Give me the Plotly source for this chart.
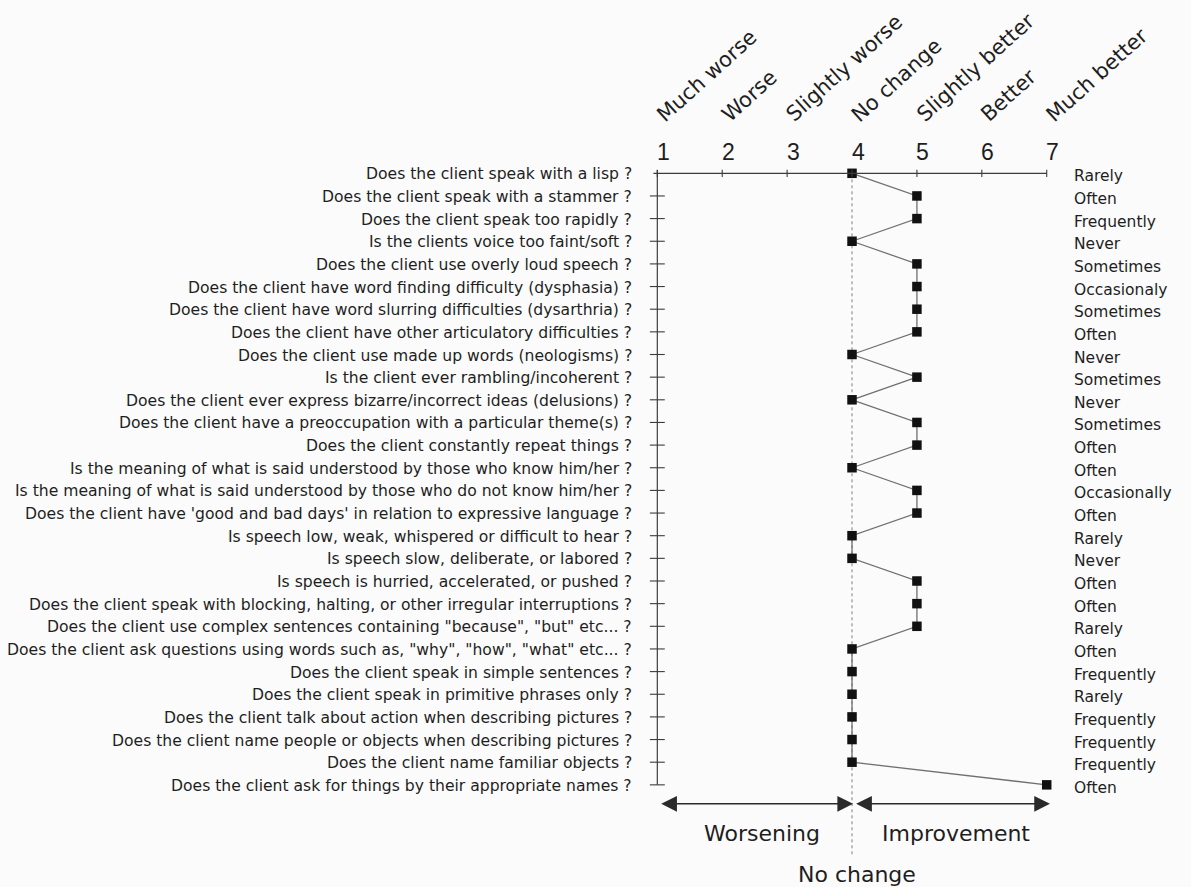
import plotly.graph_objects as go

# Questionnaire items, top to bottom
questions = [
    "Does the client speak with a lisp ?",
    "Does the client speak with a stammer ?",
    "Does the client speak too rapidly ?",
    "Is the clients voice too faint/soft ?",
    "Does the client use overly loud speech ?",
    "Does the client have word finding difficulty (dysphasia) ?",
    "Does the client have word slurring difficulties (dysarthria) ?",
    "Does the client have other articulatory difficulties ?",
    "Does the client use made up words (neologisms) ?",
    "Is the client ever rambling/incoherent ?",
    "Does the client ever express bizarre/incorrect ideas (delusions) ?",
    "Does the client have a preoccupation with a particular theme(s) ?",
    "Does the client constantly repeat things ?",
    "Is the meaning of what is said understood by those who know him/her ?",
    "Is the meaning of what is said understood by those who do not know him/her ?",
    "Does the client have 'good and bad days' in relation to expressive language ?",
    "Is speech low, weak, whispered or difficult to hear ?",
    "Is speech slow, deliberate, or labored ?",
    "Is speech is hurried, accelerated, or pushed ?",
    "Does the client speak with blocking, halting, or other irregular interruptions ?",
    "Does the client use complex sentences containing \"because\", \"but\" etc... ?",
    "Does the client ask questions using words such as, \"why\", \"how\", \"what\" etc... ?",
    "Does the client speak in simple sentences ?",
    "Does the client speak in primitive phrases only ?",
    "Does the client talk about action when describing pictures ?",
    "Does the client name people or objects when describing pictures ?",
    "Does the client name familiar objects ?",
    "Does the client ask for things by their appropriate names ?",
]

# Rated change on the 1-7 scale for each item
change_scores = [4, 5, 5, 4, 5, 5, 5, 5, 4, 5, 4, 5, 5, 4,
                 5, 5, 4, 4, 5, 5, 5, 4, 4, 4, 4, 4, 4, 7]

# Frequency rating shown at the right of each item
frequency = [
    "Rarely", "Often", "Frequently", "Never", "Sometimes", "Occasionaly",
    "Sometimes", "Often", "Never", "Sometimes", "Never", "Sometimes",
    "Often", "Often", "Occasionally", "Often", "Rarely", "Never", "Often",
    "Often", "Rarely", "Often", "Frequently", "Rarely", "Frequently",
    "Frequently", "Frequently", "Often",
]

# Change scale
scale_ticks = [1, 2, 3, 4, 5, 6, 7]
scale_names = ["Much worse", "Worse", "Slightly worse", "No change",
               "Slightly better", "Better", "Much better"]

rows = list(range(1, len(questions) + 1))

INK = "#1e1e1e"
AXIS = "#3c3c3c"
SANS = "DejaVu Sans"
ARIAL = "Liberation Sans"
BG = "#fbfbfb"

fig = go.Figure()

fig.add_trace(go.Scatter(
    x=change_scores, y=rows, mode="lines+markers",
    line=dict(color="#707070", width=1.3),
    marker=dict(symbol="square", size=9.5, color="#111111"),
    hoverinfo="skip", showlegend=False,
))

x_lo, x_hi = scale_ticks[0], scale_ticks[-1]
no_change = scale_ticks[scale_names.index("No change")]

shapes = []
# vertical axis with crossing ticks at every item
shapes.append(dict(type="line", xref="x", yref="y", x0=x_lo, x1=x_lo,
                   y0=rows[0] - 0.15, y1=rows[-1],
                   line=dict(color=AXIS, width=1.2)))
for r in rows[1:]:
    shapes.append(dict(type="line", xref="x", yref="y",
                       x0=x_lo - 0.115, x1=x_lo + 0.115, y0=r, y1=r,
                       line=dict(color=AXIS, width=1.1)))
# horizontal scale axis along the first item
shapes.append(dict(type="line", xref="x", yref="y", x0=x_lo - 0.06, x1=x_hi,
                   y0=rows[0], y1=rows[0], line=dict(color=AXIS, width=1.2)))
for t in scale_ticks:
    shapes.append(dict(type="line", xref="x", yref="y", x0=t, x1=t,
                       y0=rows[0] - 0.16, y1=rows[0] + 0.16,
                       line=dict(color=AXIS, width=1.1)))
# dotted no-change reference
shapes.append(dict(type="line", xref="x", yref="y", x0=no_change, x1=no_change,
                   y0=rows[0], y1=rows[-1] + 3.2,
                   line=dict(color="#808080", width=1, dash="dot"),
                   layer="below"))

annotations = []
for r, q in zip(rows, questions):
    annotations.append(dict(x=x_lo, y=r, xref="x", yref="y", text=q,
                            showarrow=False, xanchor="right", yanchor="middle",
                            xshift=-23, yshift=-1,
                            font=dict(family=SANS, size=15.6, color=INK)))
for r, f in zip(rows, frequency):
    annotations.append(dict(x=x_hi, y=r, xref="x", yref="y", text=f,
                            showarrow=False, xanchor="left", yanchor="middle",
                            xshift=25, yshift=-3,
                            font=dict(family=SANS, size=15.5, color=INK)))
for t, name in zip(scale_ticks, scale_names):
    annotations.append(dict(x=t, y=rows[0], xref="x", yref="y", text=str(t),
                            showarrow=False, xanchor="center", yanchor="middle",
                            xshift=6, yshift=21,
                            font=dict(family=ARIAL, size=23, color=INK)))
    annotations.append(dict(x=t, y=rows[0], xref="x", yref="y", text=name,
                            showarrow=False, xanchor="left", yanchor="bottom",
                            textangle=-42, xshift=-8, yshift=44,
                            font=dict(family=SANS, size=21, color=INK)))

# direction arrows below the items
arrow_y = rows[-1] + 0.84
arrow_style = dict(xref="x", yref="y", axref="x", ayref="y", text="",
                   showarrow=True, arrowside="end+start",
                   arrowhead=2, startarrowhead=2, arrowsize=2.1,
                   startarrowsize=2.1, arrowwidth=1.5, arrowcolor="#2a2a2a")
annotations.append(dict(x=x_lo + 0.06, y=arrow_y, ax=no_change + 0.04,
                        ay=arrow_y, **arrow_style))
annotations.append(dict(x=x_hi + 0.05, y=arrow_y, ax=no_change + 0.04,
                        ay=arrow_y, **arrow_style))

annotations.append(dict(x=2.61, y=rows[-1] + 2.15, xref="x", yref="y",
                        text="Worsening", showarrow=False,
                        font=dict(family=SANS, size=22, color=INK)))
annotations.append(dict(x=5.6, y=rows[-1] + 2.15, xref="x", yref="y",
                        text="Improvement", showarrow=False,
                        font=dict(family=SANS, size=22, color=INK)))
annotations.append(dict(x=no_change + 0.07, y=rows[-1] + 3.95, xref="x",
                        yref="y", text="No change", showarrow=False,
                        font=dict(family=SANS, size=22, color=INK)))

fig.update_layout(
    width=1191, height=887,
    margin=dict(l=0, r=0, t=0, b=0),
    paper_bgcolor=BG, plot_bgcolor=BG,
    xaxis=dict(range=[-9.128, 9.223], visible=False, fixedrange=True),
    yaxis=dict(range=[32.51, -6.651], visible=False, fixedrange=True),
    shapes=shapes, annotations=annotations,
    showlegend=False,
)

fig.write_html("out.html")
